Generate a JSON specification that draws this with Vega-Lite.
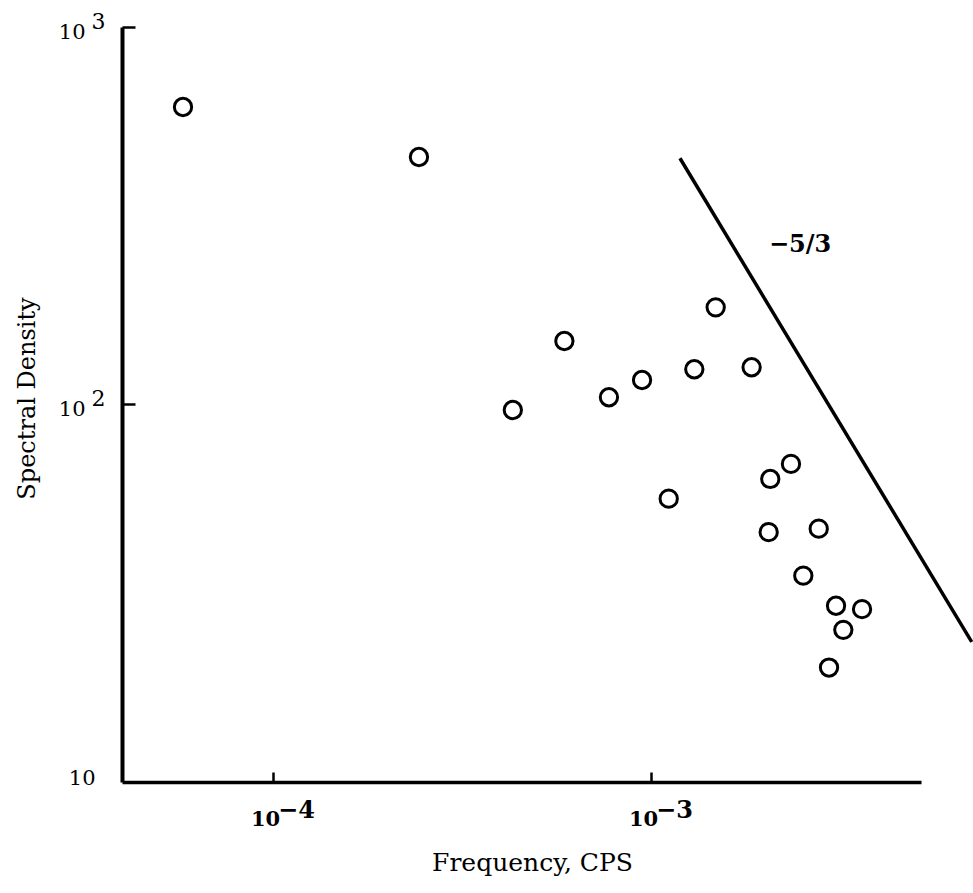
{
  "$schema": "https://vega.github.io/schema/vega-lite/v6.json",
  "autosize": "none",
  "width": 799,
  "height": 755,
  "padding": {"left": 122, "top": 27, "right": 52, "bottom": 111},
  "background": "white",
  "config": {
    "view": {"stroke": null},
    "font": "DejaVu Serif"
  },
  "datasets": {
    "points": [
      {"freq": 5.78e-5, "density": 614},
      {"freq": 2.433e-4, "density": 452.5},
      {"freq": 4.31e-4, "density": 96.7},
      {"freq": 5.90e-4, "density": 147.3},
      {"freq": 7.74e-4, "density": 104.5},
      {"freq": 9.47e-4, "density": 116.1},
      {"freq": 1.114e-3, "density": 56.3},
      {"freq": 1.302e-3, "density": 124.0},
      {"freq": 1.483e-3, "density": 180.9},
      {"freq": 1.846e-3, "density": 125.5},
      {"freq": 2.068e-3, "density": 63.5},
      {"freq": 2.346e-3, "density": 69.6},
      {"freq": 2.048e-3, "density": 45.9},
      {"freq": 2.778e-3, "density": 46.9},
      {"freq": 2.529e-3, "density": 35.2},
      {"freq": 3.087e-3, "density": 29.3},
      {"freq": 3.617e-3, "density": 28.7},
      {"freq": 3.227e-3, "density": 25.3},
      {"freq": 2.958e-3, "density": 20.1}
    ],
    "slope": [
      {"freq": 1.193e-3, "density": 449},
      {"freq": 7.055e-3, "density": 23.5}
    ],
    "label": [
      {"freq": 2.48e-3, "density": 264.6, "text": "−5/3"}
    ]
  },
  "resolve": {"axis": {"x": "independent", "y": "independent"}},
  "layer": [
    {
      "data": {"name": "points"},
      "mark": {"type": "point", "shape": "circle", "filled": false, "size": 300, "strokeWidth": 3, "color": "black", "opacity": 1},
      "encoding": {
        "x": {
          "field": "freq", "type": "quantitative",
          "scale": {"type": "log", "domain": [3.986e-5, 5.18e-3], "nice": false},
          "axis": {
            "orient": "bottom",
            "title": "Frequency, CPS",
            "titleFont": "DejaVu Serif",
            "titleFontSize": 25,
            "titleFontWeight": "normal",
            "titleColor": "black",
            "titleX": 410,
            "titleY": 80,
            "titleAlign": "center",
            "titleBaseline": "middle",
            "values": [0.0001, 0.001],
            "labelExpr": "'10'",
            "labelFontSize": 21,
            "labelFontWeight": "bold",
            "labelColor": "black",
            "labelPadding": 26,
            "labelOffset": -8,
            "labelFlush": false,
            "labelBaseline": "top",
            "ticks": false,
            "tickSize": 0,
            "domainColor": "black",
            "domainWidth": 3.5,
            "grid": false
          }
        },
        "y": {
          "field": "density", "type": "quantitative",
          "scale": {"type": "log", "domain": [10, 1000], "nice": false},
          "axis": {
            "orient": "left",
            "title": "Spectral Density",
            "titleFont": "DejaVu Serif",
            "titleFontSize": 24,
            "titleFontWeight": "normal",
            "titleColor": "black",
            "titleX": -95,
            "titleY": 371,
            "titleAngle": -90,
            "titleAlign": "center",
            "titleBaseline": "middle",
            "values": [10, 100, 1000],
            "labelExpr": "'10'",
            "labelFontSize": 21,
            "labelColor": "black",
            "labelPadding": {"condition": {"test": "datum.value == 10", "value": 27}, "value": 37},
            "labelOffset": {"condition": {"test": "datum.value == 10", "value": -4}, "value": 5},
            "labelFlush": false,
            "labelAlign": "right",
            "labelBaseline": "middle",
            "ticks": false,
            "tickSize": 0,
            "domainColor": "black",
            "domainWidth": 4,
            "grid": false
          }
        }
      }
    },
    {
      "data": {"name": "slope"},
      "mark": {"type": "line", "color": "black", "strokeWidth": 3.5, "clip": false},
      "encoding": {
        "x": {
          "field": "freq", "type": "quantitative",
          "axis": {
            "orient": "bottom",
            "title": null,
            "values": [0.0001, 0.001],
            "labelExpr": "datum.value < 0.0005 ? '−4' : '−3'",
            "labelFontSize": 24,
            "labelFontWeight": "bold",
            "labelColor": "black",
            "labelPadding": 16,
            "labelOffset": 23,
            "labelFlush": false,
            "labelBaseline": "top",
            "ticks": false,
            "tickSize": 0,
            "domain": false,
            "grid": false
          }
        },
        "y": {
          "field": "density", "type": "quantitative",
          "axis": {
            "orient": "left",
            "title": null,
            "values": [100, 1000],
            "labelExpr": "datum.value == 1000 ? '3' : '2'",
            "labelFontSize": 22,
            "labelColor": "black",
            "labelPadding": 17,
            "labelOffset": -6,
            "labelFlush": false,
            "labelAlign": "right",
            "labelBaseline": "middle",
            "ticks": false,
            "tickSize": 0,
            "domain": false,
            "grid": false
          }
        }
      }
    },
    {
      "data": {"name": "label"},
      "mark": {"type": "text", "fontSize": 24, "fontWeight": "bold", "color": "black", "align": "center", "baseline": "middle"},
      "encoding": {
        "x": {
          "field": "freq", "type": "quantitative",
          "axis": {
            "orient": "bottom",
            "title": null,
            "values": [0.0001, 0.001],
            "labels": false,
            "offset": -10,
            "tickSize": 10,
            "tickWidth": 2.5,
            "tickColor": "black",
            "domain": false,
            "grid": false
          }
        },
        "y": {
          "field": "density", "type": "quantitative",
          "axis": {
            "orient": "left",
            "title": null,
            "values": [100, 1000],
            "labels": false,
            "offset": -13,
            "tickSize": 13,
            "tickWidth": 2.5,
            "tickColor": "black",
            "domain": false,
            "grid": false
          }
        },
        "text": {"field": "text"}
      }
    }
  ]
}
